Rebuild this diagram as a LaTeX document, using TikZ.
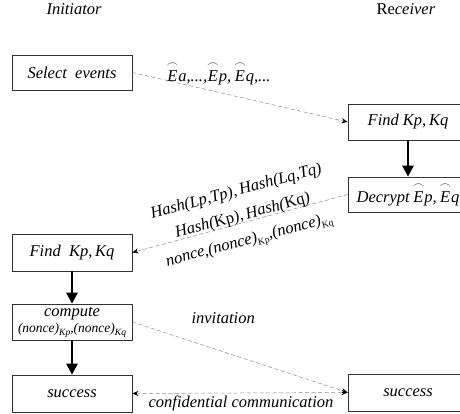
\documentclass[tikz,border=0pt]{standalone}
\usepackage{amsmath}
\usepackage{fontspec}
\setmainfont{Liberation Serif}
\usetikzlibrary{arrows.meta}

\newcommand{\arcE}{\ensuremath{\overset{\frown}{\mbox{\itshape E}}}}
\newcommand{\lowsub}[1]{\raisebox{-0.45ex}{\fontsize{9.5}{10}\selectfont #1}}

\begin{document}
\begin{tikzpicture}[x=1pt,y=-1pt
    ,msgtip/.tip={Stealth[color=black,length=6pt,width=5pt]}
    ,every node/.style={font=\fontsize{16.5}{19}\selectfont\itshape}
    ,box/.style={draw=black!80,line width=0.7pt,minimum width=120pt
                ,minimum height=36pt,inner sep=1pt,align=center}
    ,flow/.style={line width=2.6pt,-{Triangle[length=11pt,width=11pt]}}
    ,msg/.style={draw=black!45,line width=0.5pt
                ,dash pattern=on 4pt off 2.5pt,-msgtip}]
  \useasboundingbox (0,0) rectangle (460,414);
  \clip (0,0) rectangle (460,414);

  % the two parties
  \node (ini) [anchor=base west] at (43,15) {Initiator};
  \node (rec) [anchor=base west] at (373,15) {\upshape Re\itshape ceiver};

  % steps
  \node (sel)   [box,minimum height=35pt] at (72,72.5)  {Select\ \ events};
  \node (findR) [box]                     at (408,122)  {Find Kp,\,Kq};
  \node (decr)  [box,minimum height=35pt] at (408,194.5) {Decrypt\,\arcE p,\,\arcE q};
  \node (findL) [box,minimum height=37pt] at (72,252.5) {Find\ \ Kp,\,Kq};
  \node (comp)  [box]                     at (72,322)
    {compute\\[-3pt]{\fontsize{13.5}{15}\selectfont
      (nonce)\lowsub{Kp},(nonce)\lowsub{Kq}}};
  \node (succL) [box,minimum height=37pt] at (72,393.5) {success};
  \node (succR) [box,minimum height=37pt] at (408,392.5) {success};

  % messages
  \draw[msg] (sel.east) -- (findR.west);
  \draw[flow] (findR) -- (decr);
  \draw[msg] (decr.west) -- (findL.east);
  \draw[flow] (findL) -- (comp);
  \draw[flow] (comp) -- (succL);
  \draw[msg] (comp.east) -- (succR.west);
  \draw[msg,msgtip-msgtip] (succL.east) -- (succR.west);

  % labels
  \node (ev) [anchor=base west] at (163,82) {\arcE a,...,\arcE p,\,\arcE q,...};
  \node (hash) [rotate=15,align=center,font=\fontsize{16.5}{25}\selectfont\itshape]
    at (243,217)
    {Hash(Lp,Tp),\,Hash(Lq,Tq)\\
     Hash({\upshape Kp}),\,Hash({\upshape Kq})\\
     nonce,(nonce)\lowsub{\upshape Kp},(nonce)\lowsub{\upshape Kq}};
  \node (inv) [anchor=base west] at (188,323) {invitation};
  \node (conf) [anchor=base] at (241,407) {confidential communication};
\end{tikzpicture}
\end{document}
